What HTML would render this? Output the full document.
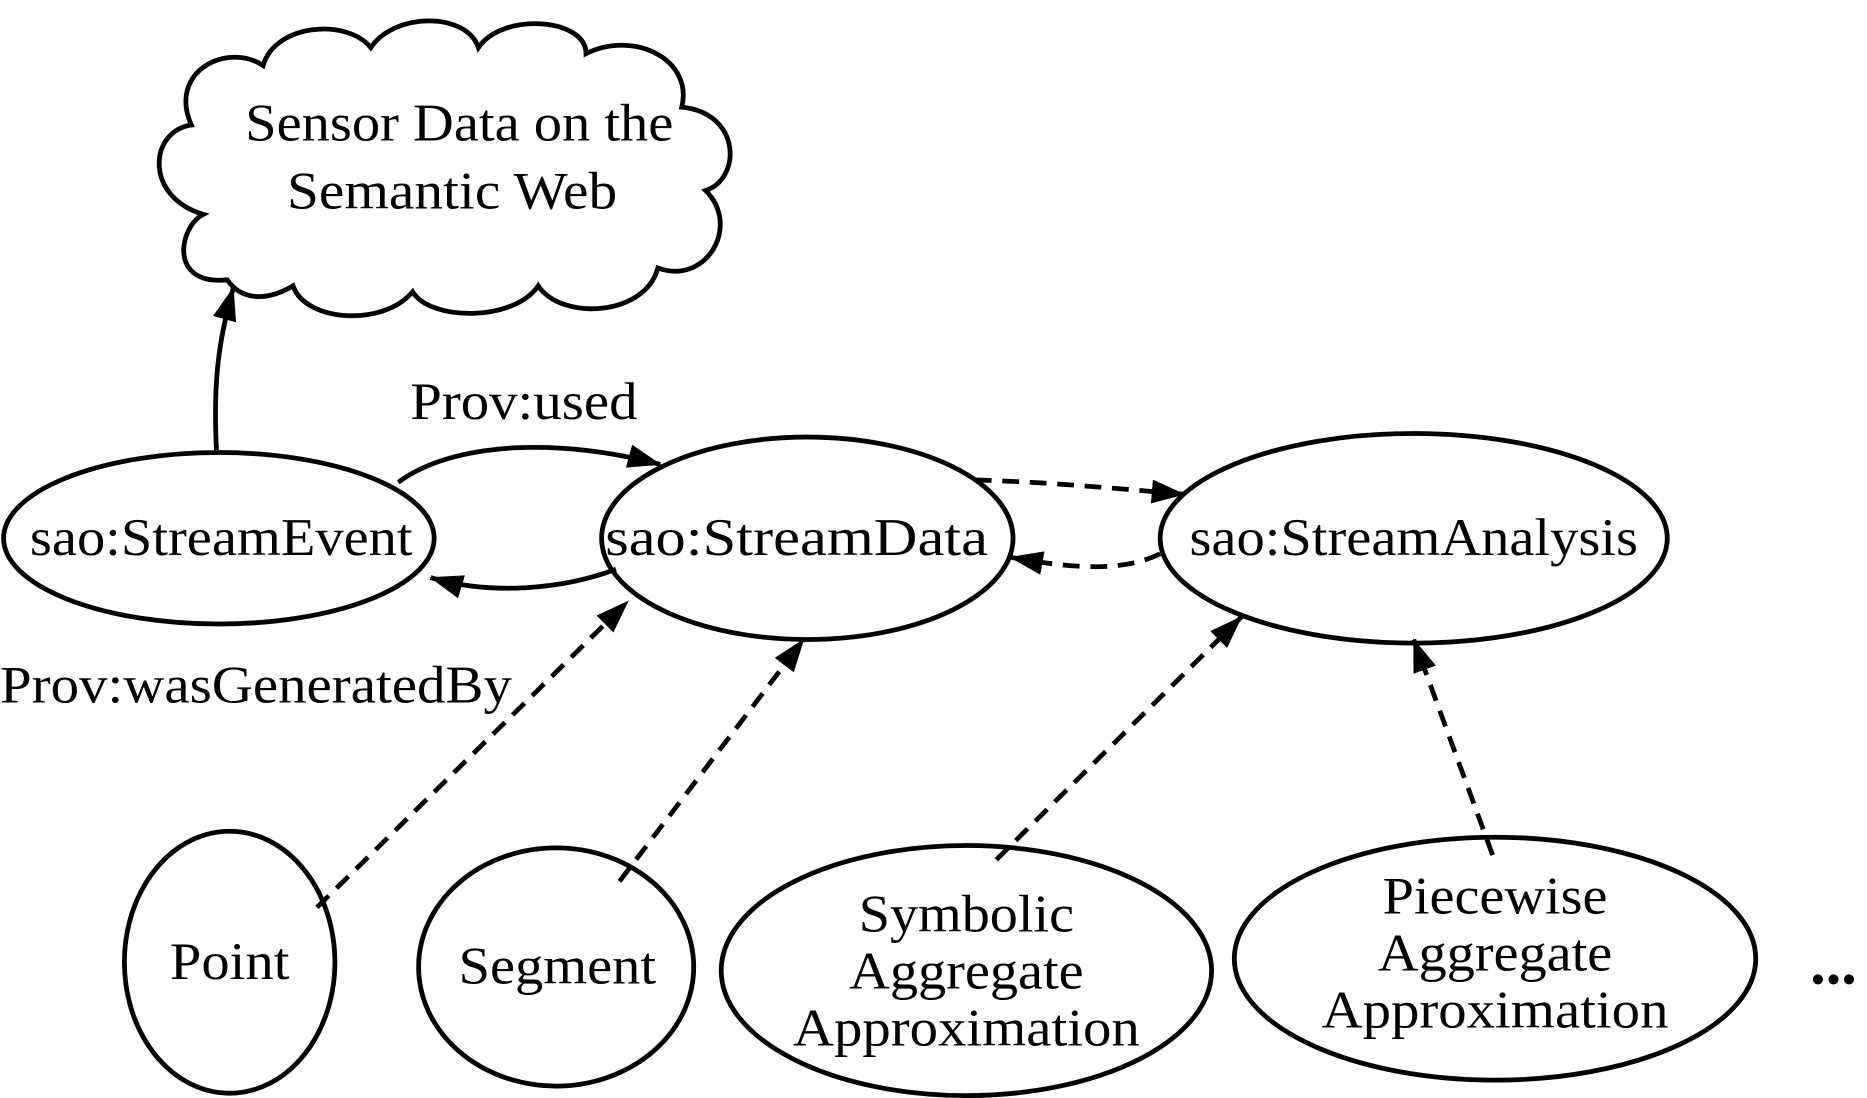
<!DOCTYPE html>
<html><head><meta charset="utf-8"><style>html,body{margin:0;padding:0;background:#fff}svg{display:block}</style></head>
<body>
<svg width="1867" height="1098" viewBox="0 0 1561 922" preserveAspectRatio="none" xmlns="http://www.w3.org/2000/svg">
<defs>
<marker id="b" viewBox="0 0 28 20" refX="27" refY="10" markerWidth="28" markerHeight="20" orient="auto" markerUnits="userSpaceOnUse"><path d="M0,0 L28,10 L0,20 Z" fill="#000"/></marker>
</defs>
<g fill="none" stroke="#000" stroke-width="4">
<path d="M190,235 C140,240 150,190 170,180 C120,165 125,110 160,105 C140,60 190,35 220,55 C230,20 290,15 310,40 C330,10 390,10 400,40 C420,10 490,15 490,45 C530,25 580,50 570,90 C620,95 620,150 590,160 C620,190 590,240 550,225 C540,265 470,270 450,240 C430,270 360,270 345,245 C320,275 255,270 245,240 C220,255 200,250 190,235 Z"/>
<ellipse cx="183" cy="452" rx="180" ry="72"/>
<ellipse cx="675" cy="452" rx="172" ry="85"/>
<ellipse cx="1182" cy="452" rx="212" ry="88"/>
<ellipse cx="192" cy="808" rx="88" ry="110"/>
<ellipse cx="465" cy="812" rx="115" ry="100"/>
<ellipse cx="808" cy="815" rx="205" ry="105"/>
<ellipse cx="1250" cy="805" rx="218" ry="102"/>
<path d="M181,378 C178,320 183,285 195,242" marker-end="url(#b)"/>
<path d="M333,405 C380,370 470,368 552,390" marker-end="url(#b)"/>
<path d="M515,478 C470,495 410,500 360,485" marker-end="url(#b)"/>
<g stroke-dasharray="14,9">
<path d="M815,403 C880,405 930,410 990,415" marker-end="url(#b)"/>
<path d="M970,465 C940,480 900,478 845,468" marker-end="url(#b)"/>
<path d="M265,762 L525,505" marker-end="url(#b)"/>
<path d="M518,740 L672,537" marker-end="url(#b)"/>
<path d="M833,722 L1038,518" marker-end="url(#b)"/>
<path d="M1248,718 L1182,537" marker-end="url(#b)"/>
</g>
</g>
<g font-family="Liberation Serif, serif" font-size="44" fill="#000" text-anchor="middle">
<text x="384" y="118" textLength="358" lengthAdjust="spacingAndGlyphs">Sensor Data on the</text>
<text x="378" y="175" textLength="276" lengthAdjust="spacingAndGlyphs">Semantic Web</text>
<text x="438" y="352" textLength="190" lengthAdjust="spacingAndGlyphs">Prov:used</text>
<text x="185" y="466" textLength="320" lengthAdjust="spacingAndGlyphs">sao:StreamEvent</text>
<text x="666" y="466" textLength="320" lengthAdjust="spacingAndGlyphs">sao:StreamData</text>
<text x="1182" y="466" textLength="375" lengthAdjust="spacingAndGlyphs">sao:StreamAnalysis</text>
<text x="214" y="590" textLength="428" lengthAdjust="spacingAndGlyphs">Prov:wasGeneratedBy</text>
<text x="192" y="822" textLength="100" lengthAdjust="spacingAndGlyphs">Point</text>
<text x="466" y="826" textLength="165" lengthAdjust="spacingAndGlyphs">Segment</text>
<text x="808" y="782" textLength="180" lengthAdjust="spacingAndGlyphs">Symbolic</text>
<text x="808" y="830" textLength="196" lengthAdjust="spacingAndGlyphs">Aggregate</text>
<text x="808" y="878" textLength="290" lengthAdjust="spacingAndGlyphs">Approximation</text>
<text x="1250" y="767" textLength="188" lengthAdjust="spacingAndGlyphs">Piecewise</text>
<text x="1250" y="815" textLength="196" lengthAdjust="spacingAndGlyphs">Aggregate</text>
<text x="1250" y="863" textLength="290" lengthAdjust="spacingAndGlyphs">Approximation</text>
<text x="1533" y="826" font-size="52" font-weight="bold">...</text>
</g>
</svg>
</body></html>
